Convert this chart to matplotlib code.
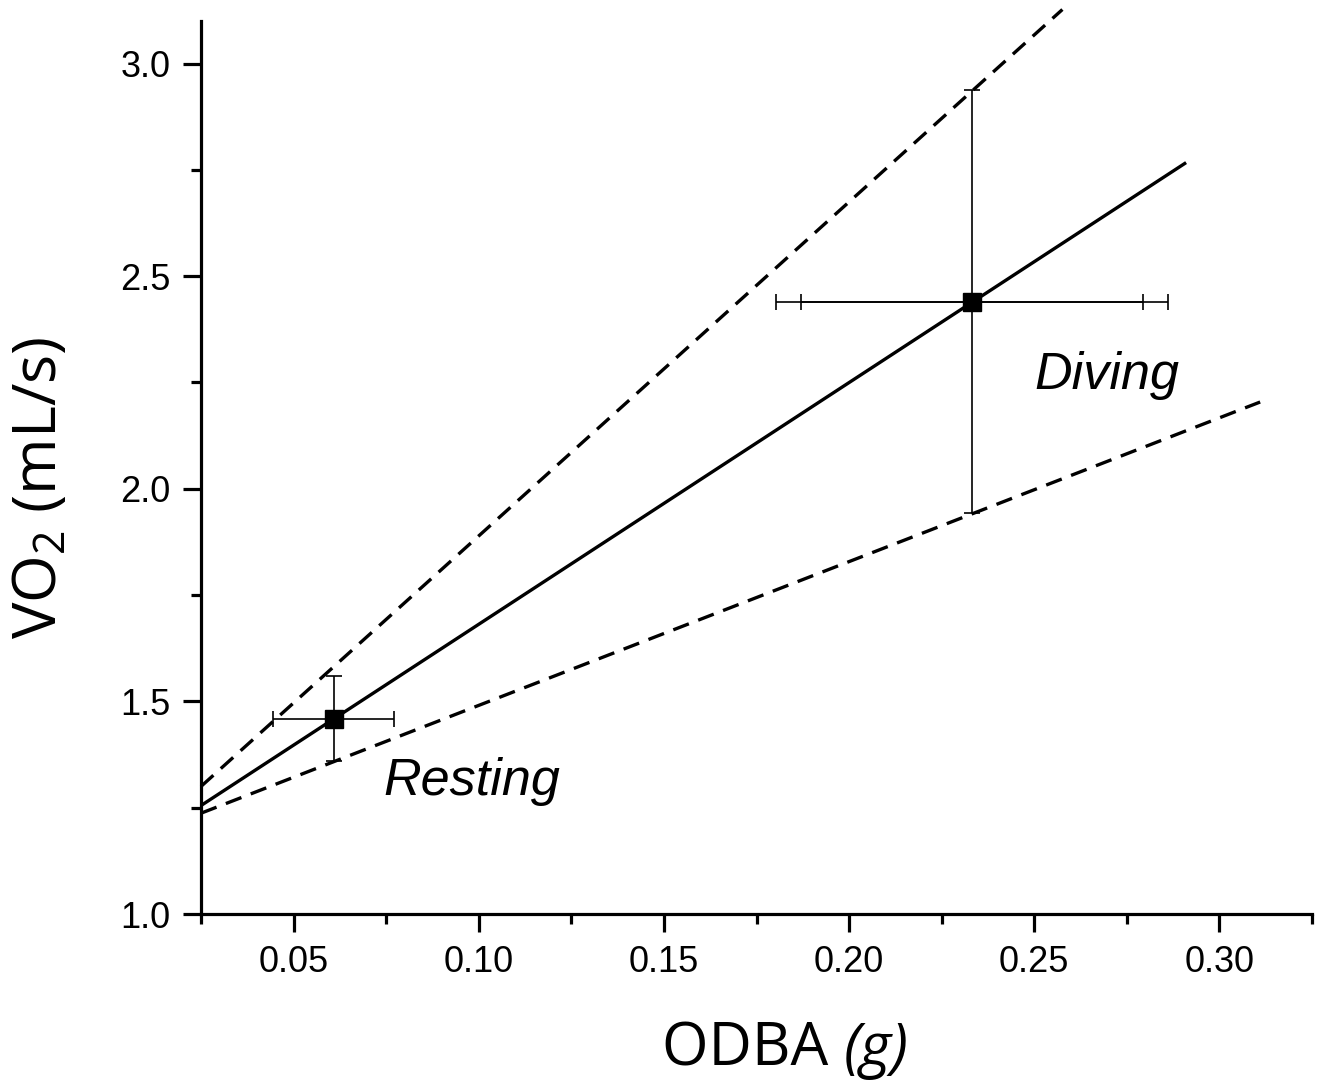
import matplotlib
matplotlib.use("Agg")
import matplotlib.pyplot as plt
from matplotlib.ticker import MultipleLocator, FormatStrFormatter

# ---- data ----
labels = ["Resting", "Diving"]
odba = [0.0608, 0.2332]
vo2 = [1.459, 2.440]
odba_err = [0.0163, 0.0529]      # outer x error bars
odba_err_inner = [None, 0.0463]  # inner x error bar (diving only)
vo2_err = [0.100, 0.497]

fit_x = [0.025, 0.291]
fit_y = [1.255, 2.767]
upper_x = [0.025, 0.2576]
upper_y = [1.300, 3.127]
lower_x = [0.025, 0.311]
lower_y = [1.237, 2.204]

label_pos_x = [0.0742, 0.2500]
label_pos_y = [1.281, 2.235]

plt.rcParams['mathtext.fontset'] = 'custom'
plt.rcParams['mathtext.rm'] = 'Open Sans'
plt.rcParams['mathtext.it'] = 'Open Sans:italic'

fig = plt.figure(figsize=(13.23, 10.82), dpi=100)
ax = fig.add_axes([201/1323, 1-914/1082, (1312-201)/1323, (914-21)/1082])

lw = 2.4
ax.plot(fit_x, fit_y, color='black', lw=lw, solid_capstyle='butt', zorder=3)
ax.plot(upper_x, upper_y, color='black', lw=lw, dashes=(5, 3), clip_on=False, zorder=3)
ax.plot(lower_x, lower_y, color='black', lw=lw, dashes=(5, 3), clip_on=False, zorder=3)

ax.errorbar(odba, vo2, xerr=odba_err, yerr=vo2_err, fmt='none', ecolor='black',
            elinewidth=1.2, capsize=5.5, capthick=1.2, zorder=4)
ax.errorbar([odba[1]], [vo2[1]], xerr=[odba_err_inner[1]], fmt='none', ecolor='black',
            elinewidth=1.2, capsize=5.5, capthick=1.2, zorder=4)
ax.plot(odba, vo2, 's', color='black', markersize=13.5, zorder=5)

for lx, ly, t in zip(label_pos_x, label_pos_y, labels):
    ax.text(lx, ly, t, fontsize=37.5, style='italic', family='Liberation Sans',
            ha='left', va='baseline')

ax.set_xlim(0.025, 0.325)
ax.set_ylim(1.0, 3.1)
ax.xaxis.set_major_locator(MultipleLocator(0.05))
ax.xaxis.set_minor_locator(MultipleLocator(0.025))
ax.yaxis.set_major_locator(MultipleLocator(0.5))
ax.yaxis.set_minor_locator(MultipleLocator(0.25))
ax.xaxis.set_major_formatter(FormatStrFormatter('%.2f'))
ax.yaxis.set_major_formatter(FormatStrFormatter('%.1f'))
ax.set_xticks([0.05, 0.10, 0.15, 0.20, 0.25, 0.30])

for s in ['top', 'right']:
    ax.spines[s].set_visible(False)
for s in ['left', 'bottom']:
    ax.spines[s].set_linewidth(2.3)

ax.tick_params(which='major', direction='out', length=13, width=2.3, pad=9,
               labelsize=26)
ax.tick_params(which='minor', direction='out', length=7, width=2.3)
for lab in ax.get_xticklabels() + ax.get_yticklabels():
    lab.set_family('Liberation Sans')

t1 = fig.text(662/1323, 1-1066/1082, "ODBA ", fontsize=43,
              family='Open Sans', ha='left', va='baseline')
ax.annotate("(g)", xy=(1, 0), xycoords=t1, xytext=(0, 0), textcoords='offset points',
            fontsize=43, family='Open Sans', style='italic', ha='left', va='bottom',
            annotation_clip=False)
fig.text(40/1323, 1-488/1082, r"VO$_2$ (mL/s)", fontsize=44,
         family='Open Sans', ha='center', va='center', rotation=90)

fig.savefig('out.png', dpi=100)
